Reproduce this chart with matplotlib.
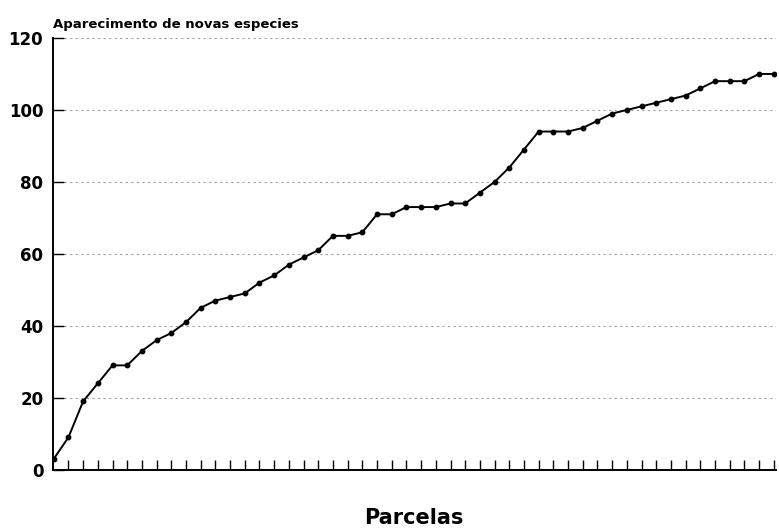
import matplotlib
matplotlib.use("Agg")
import matplotlib.pyplot as plt

parcelas = list(range(50))
especies = [3, 9, 19, 24, 29, 29, 33, 36, 38, 41,
            45, 47, 48, 49, 52, 54, 57, 59, 61, 65,
            65, 66, 71, 71, 73, 73, 73, 74, 74, 77,
            80, 84, 89, 94, 94, 94, 95, 97, 99, 100,
            101, 102, 103, 104, 106, 108, 108, 108, 110, 110]
yticks = [0, 20, 40, 60, 80, 100, 120]

plt.rcParams['font.family'] = ['DejaVu Sans']

fig = plt.figure(figsize=(7.79, 5.30), dpi=100)
ax = fig.add_axes([53/779, 1 - 469.7/530, (776 - 53)/779, (469.7 - 38)/530])

for v in yticks[1:]:
    ax.axhline(v, color='#a0a0a0', lw=0.8, ls=(0, (2, 3)), zorder=1)

ax.plot(parcelas, especies, color='black', lw=1.4, marker='o', ms=3.2, zorder=3)

ax.set_xlim(-0.05, 49.15)
ax.set_ylim(0, 120)
ax.set_yticks(yticks)
ax.set_yticklabels([str(v) for v in yticks], fontsize=12, fontweight='bold')
ax.set_xticks(parcelas[1:])
ax.set_xticklabels([])
ax.tick_params(axis='x', direction='in', length=7, width=1.0, color='black')
ax.tick_params(axis='y', direction='in', length=8, width=1.0, color='black', pad=7)

for s in ['top', 'right']:
    ax.spines[s].set_visible(False)
for s in ['left', 'bottom']:
    ax.spines[s].set_linewidth(1.4)

fig.text(53/779, 1 - 28/530, 'Aparecimento de novas especies', fontsize=9.5,
         fontweight='bold', ha='left', va='baseline')
fig.text(414/779, 1 - 524/530, 'Parcelas', fontsize=15,
         fontweight='bold', ha='center', va='baseline')

fig.savefig('out.png', dpi=100)
